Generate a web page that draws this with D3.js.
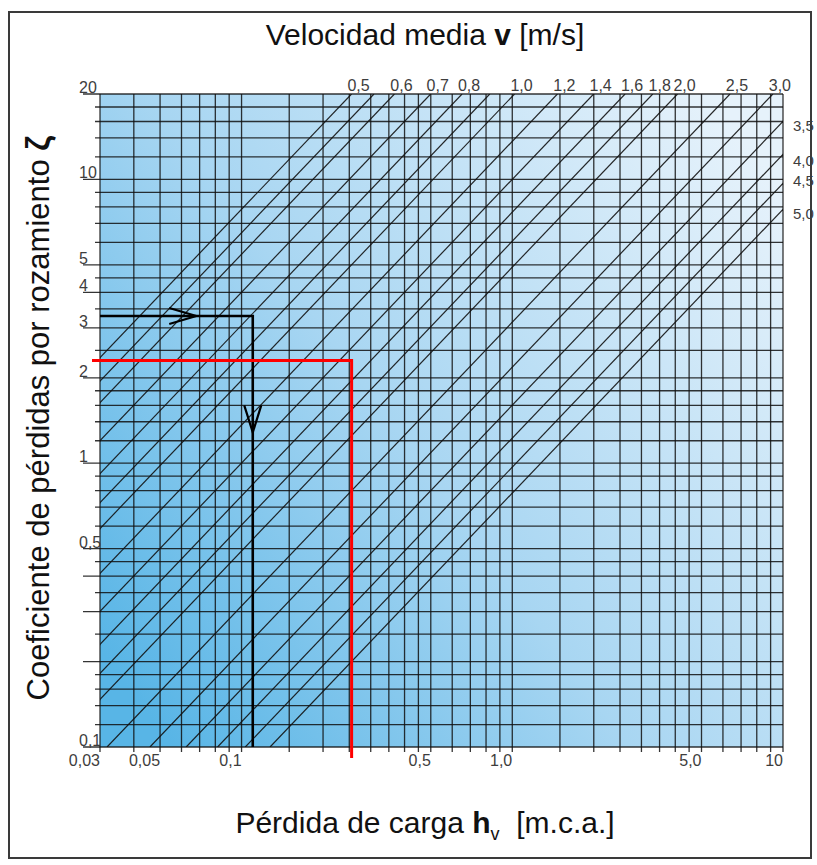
<!DOCTYPE html>
<html>
<head>
<meta charset="utf-8">
<script src="https://cdn.jsdelivr.net/npm/d3@7"></script>
<style>
body { margin: 0; background: #fff; }
text { font-family: "Liberation Sans", Arial, sans-serif; }
</style>
</head>
<body>
<script>
// values
var h_grid = [0.03,0.04,0.05,0.06,0.07,0.08,0.09,0.1,0.15,0.2,0.25,0.3,0.35,0.4,0.45,0.5,0.6,0.7,0.8,0.9,1,1.5,2,2.5,3,3.5,4,4.5,5,6,7,8,9,10];
var zeta_grid = [20,18,16,14,12,10,9,8,7,6,5,4.5,4,3.5,3,2.5,2,1.8,1.6,1.4,1.2,1,0.9,0.8,0.7,0.6,0.5,0.45,0.4,0.35,0.3,0.25,0.2,0.18,0.16,0.14,0.12,0.1];
var h_labels = [0.03,0.05,0.1,0.5,1,5,10];
var zeta_labels = [20,10,5,4,3,2,1,0.5,0.1];
var zeta_long_ticks = [20,10,5,4,3,2,1,0.5,0.4,0.3,0.2,0.1];
var velocities = [0.5,0.55,0.6,0.7,0.8,0.9,1.0,1.2,1.4,1.6,1.8,2.0,2.5,3.0,3.5,4.0,4.5,5.0];
var v_top_labels = [0.5,0.6,0.7,0.8,1.0,1.2,1.4,1.6,1.8,2.0,2.5,3.0];
var v_side_labels = [3.5,4.0,4.5,5.0];
var v_side_nudge = [10, 12, 3, 10];
// worked examples drawn on top
var example_black = {zeta: 3.3, h: 0.11};
var example_red = {zeta: 2.3, h: 0.255};
var two_g = 2*9.81;

var width = 817, height = 865;
var p_left = 100, p_right = 783, p_top = 94, p_bottom = 747;

var svg = d3.select('body').append('svg').attr('width', width).attr('height', height);

var x = d3.scaleLog().domain([0.03, 10]).range([p_left, p_right]);
var y = d3.scaleLog().domain([0.1, 20]).range([p_bottom, p_top]);

var comma = s => s.replace('.', ',');
var fmt_h = d => d >= 10 ? '10' : d < 0.1 ? comma(d3.format('.2f')(d)) : comma(d3.format('.1f')(d));
var fmt_z = d => d >= 1 ? String(d) : comma(d3.format('.1f')(d));
var fmt_v = d => comma(d3.format('.1f')(d));

// outer frame
svg.append('rect').attr('x', 9).attr('y', 12).attr('width', 802).attr('height', 846)
	.attr('fill', 'none').attr('stroke', '#3a3a3a').attr('stroke-width', 2);

// background gradient
var defs = svg.append('defs');
var grad = defs.append('linearGradient').attr('id', 'bg')
	.attr('x1', 0).attr('y1', 0.85).attr('x2', 1).attr('y2', 0.15);
grad.append('stop').attr('offset', 0).attr('stop-color', '#58b5e6');
grad.append('stop').attr('offset', 0.45).attr('stop-color', '#a8d6f2');
grad.append('stop').attr('offset', 1).attr('stop-color', '#e6f2fb');
defs.append('clipPath').attr('id', 'plotclip').append('rect')
	.attr('x', p_left).attr('y', p_top).attr('width', p_right-p_left).attr('height', p_bottom-p_top);

svg.append('rect').attr('x', p_left).attr('y', p_top).attr('width', p_right-p_left).attr('height', p_bottom-p_top)
	.attr('fill', 'url(#bg)');

var grid = svg.append('g').attr('stroke', '#111').attr('stroke-opacity', 0.85).attr('stroke-width', 1.3);

// vertical lines + small ticks below
grid.selectAll('line.v').data(h_grid).enter().append('line').attr('class', 'v')
	.attr('x1', d => x(d)).attr('x2', d => x(d))
	.attr('y1', p_top).attr('y2', p_bottom + 5);

// horizontal lines + ticks to the left
grid.selectAll('line.h').data(zeta_grid).enter().append('line').attr('class', 'h')
	.attr('y1', d => y(d)).attr('y2', d => y(d))
	.attr('x1', d => zeta_long_ticks.indexOf(d) >= 0 ? p_left - 17 : p_left - 5).attr('x2', p_right);

// constant velocity lines: h = zeta * v^2 / 2g
svg.append('g').attr('clip-path', 'url(#plotclip)')
	.selectAll('line').data(velocities).enter().append('line')
	.attr('x1', v => x(0.1*v*v/two_g)).attr('y1', y(0.1))
	.attr('x2', v => x(20*v*v/two_g)).attr('y2', y(20))
	.attr('stroke', '#111').attr('stroke-width', 1.2).attr('stroke-opacity', 0.9);

// tick labels
var lab = svg.append('g').attr('fill', '#3d3d3d').attr('font-size', 16);
lab.selectAll('text.hl').data(h_labels).enter().append('text').attr('class', 'hl')
	.attr('x', d => x(d)).attr('y', p_bottom + 19).attr('text-anchor', 'end').text(fmt_h);
lab.selectAll('text.zl').data(zeta_labels).enter().append('text').attr('class', 'zl')
	.attr('x', 79).attr('y', d => y(d) - 1).text(fmt_z);
lab.selectAll('text.vt').data(v_top_labels).enter().append('text').attr('class', 'vt')
	.attr('x', v => x(20*v*v/two_g) + 7).attr('y', p_top - 3).attr('text-anchor', 'middle').text(fmt_v);
lab.selectAll('text.vs').data(v_side_labels).enter().append('text').attr('class', 'vs')
	.attr('x', p_right + 10).attr('y', (v, i) => y(10*two_g/(v*v)) + v_side_nudge[i])
	.attr('font-size', 15).text(fmt_v);

// worked example, black with arrows
var bx = x(example_black.h), by = y(example_black.zeta);
svg.append('path')
	.attr('d', 'M' + p_left + ',' + by + 'H' + bx + 'V' + p_bottom)
	.attr('fill', 'none').attr('stroke', '#000').attr('stroke-width', 2.6);
var ax = p_left + 0.63*(bx - p_left);
svg.append('path')
	.attr('d', 'M' + (ax-27) + ',' + (by-8) + 'L' + ax + ',' + by + 'L' + (ax-27) + ',' + (by+8))
	.attr('fill', 'none').attr('stroke', '#000').attr('stroke-width', 2.2);
var ay = by + 0.27*(p_bottom - by);
svg.append('path')
	.attr('d', 'M' + (bx-8.5) + ',' + (ay-27) + 'L' + bx + ',' + ay + 'L' + (bx+8.5) + ',' + (ay-27))
	.attr('fill', 'none').attr('stroke', '#000').attr('stroke-width', 2.2);

// worked example, red
var rx = x(example_red.h), ry = y(example_red.zeta);
svg.append('path')
	.attr('d', 'M' + (p_left-8) + ',' + ry + 'H' + rx + 'V' + (p_bottom + 11))
	.attr('fill', 'none').attr('stroke', '#ff0000').attr('stroke-width', 3);

// titles
var t1 = svg.append('text').attr('x', 425).attr('y', 45).attr('text-anchor', 'middle')
	.attr('font-size', 30).attr('fill', '#111');
t1.append('tspan').text('Velocidad media ');
t1.append('tspan').attr('font-weight', 'bold').text('v');
t1.append('tspan').text(' [m/s]');

var t2 = svg.append('text').attr('x', 425).attr('y', 833).attr('text-anchor', 'middle')
	.attr('font-size', 30).attr('fill', '#111').attr('xml:space', 'preserve');
t2.append('tspan').text('Pérdida de carga ');
t2.append('tspan').attr('font-weight', 'bold').text('h');
t2.append('tspan').attr('font-size', 18).attr('dy', 7).text('v');
t2.append('tspan').attr('dy', -7).text('  [m.c.a.]');

var t3 = svg.append('text').attr('transform', 'translate(49,418) rotate(-90)')
	.attr('text-anchor', 'middle').attr('font-size', 31).attr('fill', '#111');
t3.append('tspan').text('Coeficiente de pérdidas por rozamiento ');
t3.append('tspan').attr('font-weight', 'bold').attr('font-size', 33).text('ζ');
</script>
</body>
</html>
